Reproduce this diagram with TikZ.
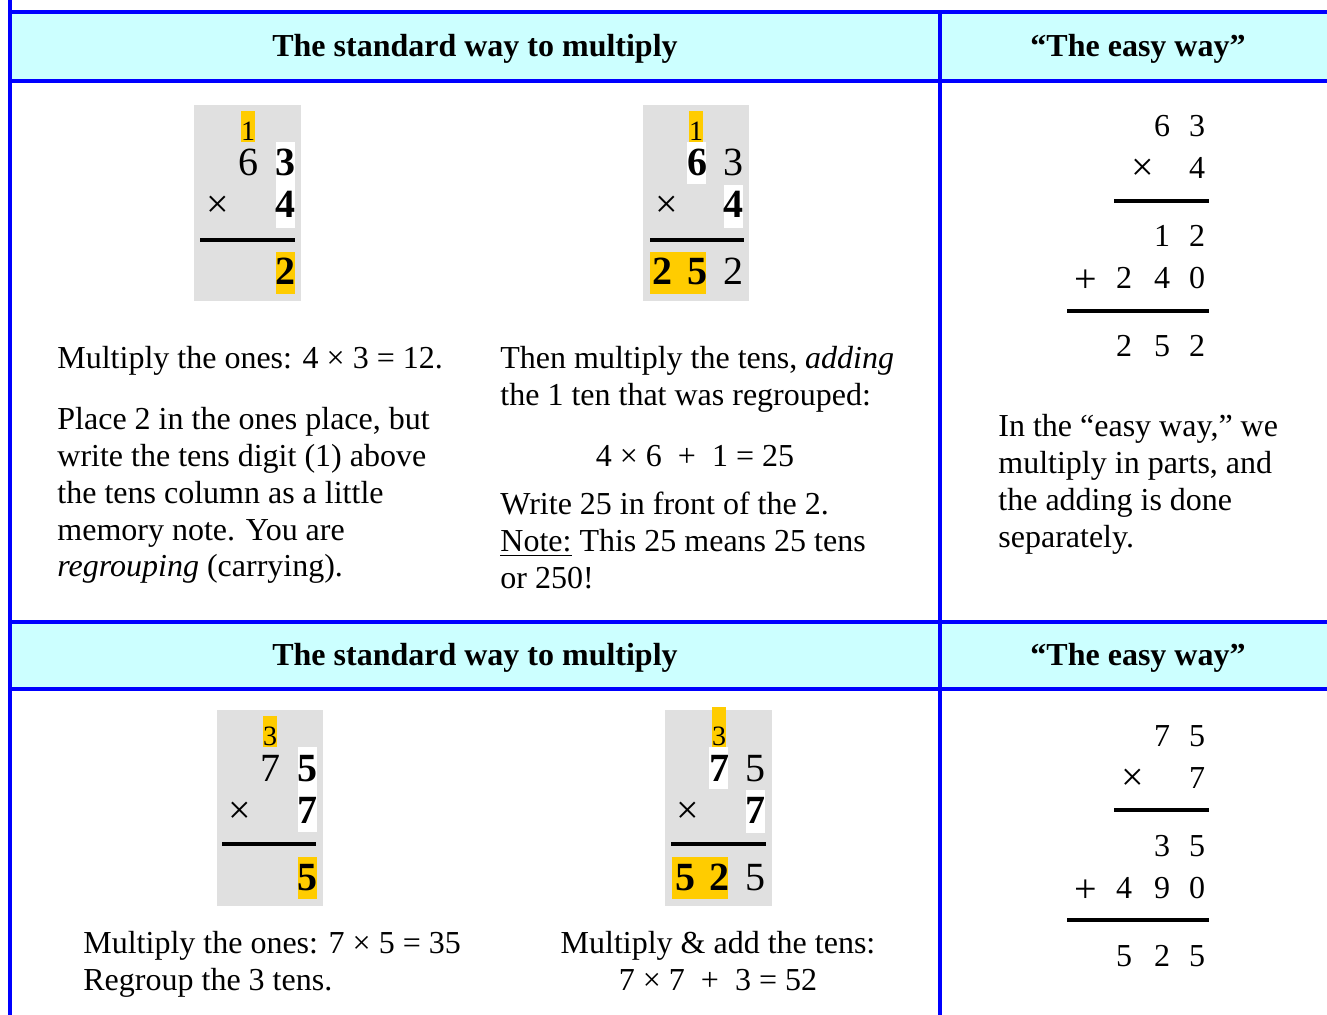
\documentclass[tikz,border=0pt]{standalone}
\usepackage{fontspec}
\setmainfont{Liberation Serif}
\definecolor{headcyan}{HTML}{CCFFFF}
\definecolor{boxgrey}{HTML}{E0E0E0}
\definecolor{markyellow}{HTML}{FFCC00}
\definecolor{gridblue}{HTML}{0000FF}
\begin{document}
\begin{tikzpicture}[
    x=0.5pt, y=-0.5pt,
    every node/.style={inner sep=0pt},
    body/.style={font=\fontsize{16}{18.4}\selectfont, anchor=base west},
    midtext/.style={font=\fontsize{16}{18.4}\selectfont, anchor=base},
    head/.style={font=\fontsize{16}{19}\selectfont\bfseries, anchor=base},
    dig/.style={font=\fontsize{20}{24}\selectfont, anchor=base},
    bdig/.style={font=\fontsize{20}{24}\selectfont\bfseries, anchor=base},
    carry/.style={font=\fontsize{14}{16}\selectfont, anchor=base},
    sumdig/.style={font=\fontsize{16}{19}\selectfont, anchor=base},
    sumop/.style={font=\fontsize{20}{24}\selectfont, anchor=base},
    rule/.style={line width=2pt},
    grid/.style={draw=gridblue, line width=2pt},
    ]

    \useasboundingbox (0,0) rectangle (1327,1015);

    % table frame
    \fill[headcyan] (10,12) rectangle (1327,81);
    \fill[headcyan] (10,622) rectangle (1327,689);
    \draw[grid] (10,0) -- (10,1015);
    \draw[grid] (940,12) -- (940,1015);
    \foreach \y in {12,81,622,689}{
    \draw[grid] (9,\y) -- (1327,\y);
    }

    \node[head] (h1) at (475,57) {The standard way to multiply};
    \node[head] (h2) at (1138,57) {“The easy way”};
    \node[head] (h3) at (475,665) {The standard way to multiply};
    \node[head] (h4) at (1138,665) {“The easy way”};

    % 63 x 4, ones
    \begin{scope}[shift={(194,105)}]
    \fill[boxgrey] (0,0) rectangle (107,196);
    \fill[markyellow] (47,6) rectangle (61,37);
    \fill[white] (82,37) rectangle (101,123);
    \fill[markyellow] (82,147) rectangle (101,189);
    \node[carry] (ac) at (54,35.5) {1};
    \node[dig] (at1) at (54,71) {6};
    \node[bdig] (ao1) at (91,71) {3};
    \node[dig] (ax) at (24,113) {×};
    \node[bdig] (ao2) at (91,113) {4};
    \draw[rule] (6,135) -- (101,135);
    \node[bdig] (ao3) at (91,180) {2};
    \end{scope}

    % 63 x 4, tens
    \begin{scope}[shift={(643,105)}]
    \fill[boxgrey] (0,0) rectangle (106,196);
    \fill[markyellow] (46,6) rectangle (60,37);
    \fill[white] (44,37) rectangle (63,79);
    \fill[white] (81,80) rectangle (100,123);
    \fill[markyellow] (7,147) rectangle (63,189);
    \node[carry] (bc) at (53,35.5) {1};
    \node[bdig] (bt1) at (54,71) {6};
    \node[dig] (bo1) at (90,71) {3};
    \node[dig] (bx) at (24,113) {×};
    \node[bdig] (bo2) at (90,113) {4};
    \draw[rule] (7,135) -- (101,135);
    \node[bdig] (bh3) at (19,180) {2};
    \node[bdig] (bt3) at (54,180) {5};
    \node[dig] (bo3) at (90,180) {2};
    \end{scope}

    % 75 x 7, ones
    \begin{scope}[shift={(217,710)}]
    \fill[boxgrey] (0,0) rectangle (106,196);
    \fill[markyellow] (46,6) rectangle (60,37);
    \fill[white] (81,37) rectangle (100,122);
    \fill[markyellow] (81,147) rectangle (100,189);
    \node[carry] (cc) at (53,35.5) {3};
    \node[dig] (ct1) at (53,71) {7};
    \node[bdig] (co1) at (90,71) {5};
    \node[dig] (cx) at (23,113) {×};
    \node[bdig] (co2) at (90,113) {7};
    \draw[rule] (5,134) -- (99,134);
    \node[bdig] (co3) at (90,180) {5};
    \end{scope}

    % 75 x 7, tens
    \begin{scope}[shift={(665,710)}]
    \fill[boxgrey] (0,0) rectangle (107,196);
    \fill[markyellow] (47,-3) rectangle (61,37);
    \fill[white] (44,37) rectangle (63,79);
    \fill[white] (81,80) rectangle (100,123);
    \fill[markyellow] (7,147) rectangle (63,189);
    \node[carry] (dc) at (54,35.5) {3};
    \node[bdig] (dt1) at (54,71) {7};
    \node[dig] (do1) at (90,71) {5};
    \node[dig] (dx) at (23,113) {×};
    \node[bdig] (do2) at (90,113) {7};
    \draw[rule] (6,134) -- (101,134);
    \node[bdig] (dh3) at (20,180) {5};
    \node[bdig] (dt3) at (54,180) {2};
    \node[dig] (do3) at (90,180) {5};
    \end{scope}

    % easy way, 63 x 4
    \node[sumdig] (e1) at (1162,137) {6};
    \node[sumdig] (e2) at (1197,137) {3};
    \node[sumop] (e3) at (1143,181) {×};
    \node[sumdig] (e4) at (1197,179) {4};
    \draw[rule] (1114,201) -- (1209,201);
    \node[sumdig] (e5) at (1162,247) {1};
    \node[sumdig] (e6) at (1197,247) {2};
    \node[sumop] (e7) at (1086,293) {+};
    \node[sumdig] (e8) at (1124,289) {2};
    \node[sumdig] (e9) at (1162,289) {4};
    \node[sumdig] (e10) at (1197,289) {0};
    \draw[rule] (1067,311) -- (1209,311);
    \node[sumdig] (e11) at (1124,357) {2};
    \node[sumdig] (e12) at (1162,357) {5};
    \node[sumdig] (e13) at (1197,357) {2};

    % easy way, 75 x 7
    \node[sumdig] (f1) at (1162,746) {7};
    \node[sumdig] (f2) at (1197,746) {5};
    \node[sumop] (f3) at (1133,790) {×};
    \node[sumdig] (f4) at (1197,788) {7};
    \draw[rule] (1114,810) -- (1209,810);
    \node[sumdig] (f5) at (1162,856) {3};
    \node[sumdig] (f6) at (1197,856) {5};
    \node[sumop] (f7) at (1086,902) {+};
    \node[sumdig] (f8) at (1124,898) {4};
    \node[sumdig] (f9) at (1162,898) {9};
    \node[sumdig] (f10) at (1197,898) {0};
    \draw[rule] (1067,920) -- (1209,920);
    \node[sumdig] (f11) at (1124,966) {5};
    \node[sumdig] (f12) at (1162,966) {2};
    \node[sumdig] (f13) at (1197,966) {5};

    % explanations
    \node[body] (ta) at (57,369) {Multiply the ones: 4 × 3 = 12.};
    \foreach \ln [count=\i] in {{Place 2 in the ones place, but},
        {write the tens digit (1) above}, {the tens column as a little},
        {memory note. You are}, {\textit{regrouping} (carrying).}}{
    \node[body] (pa\i) at (57,{430+36.7*(\i-1)}) {\ln};
    }

    \node[body] (tb1) at (500,369) {Then multiply the tens, \textit{adding}};
    \node[body] (tb2) at (500,406) {the 1 ten that was regrouped:};
    \node[midtext] (tbf) at (695,467) {4 × 6~~+~~1 = 25};
    \foreach \ln [count=\i] in {{Write 25 in front of the 2.},
        {\underline{Note:} This 25 means 25 tens}, {or 250!}}{
    \node[body] (pb\i) at (500,{515+36.7*(\i-1)}) {\ln};
    }

    \foreach \ln [count=\i] in {{In the “easy way,” we},
        {multiply in parts, and}, {the adding is done}, {separately.}}{
    \node[body] (pc\i) at (998,{437+36.7*(\i-1)}) {\ln};
    }

    \node[body] (td1) at (83,953) {Multiply the ones: 7 × 5 = 35};
    \node[body] (td2) at (83,990) {Regroup the 3 tens.};
    \node[midtext] (te1) at (718,953) {Multiply \& add the tens:};
    \node[midtext] (te2) at (718,990) {7 × 7~~+~~3 = 52};

\end{tikzpicture}
\end{document}
